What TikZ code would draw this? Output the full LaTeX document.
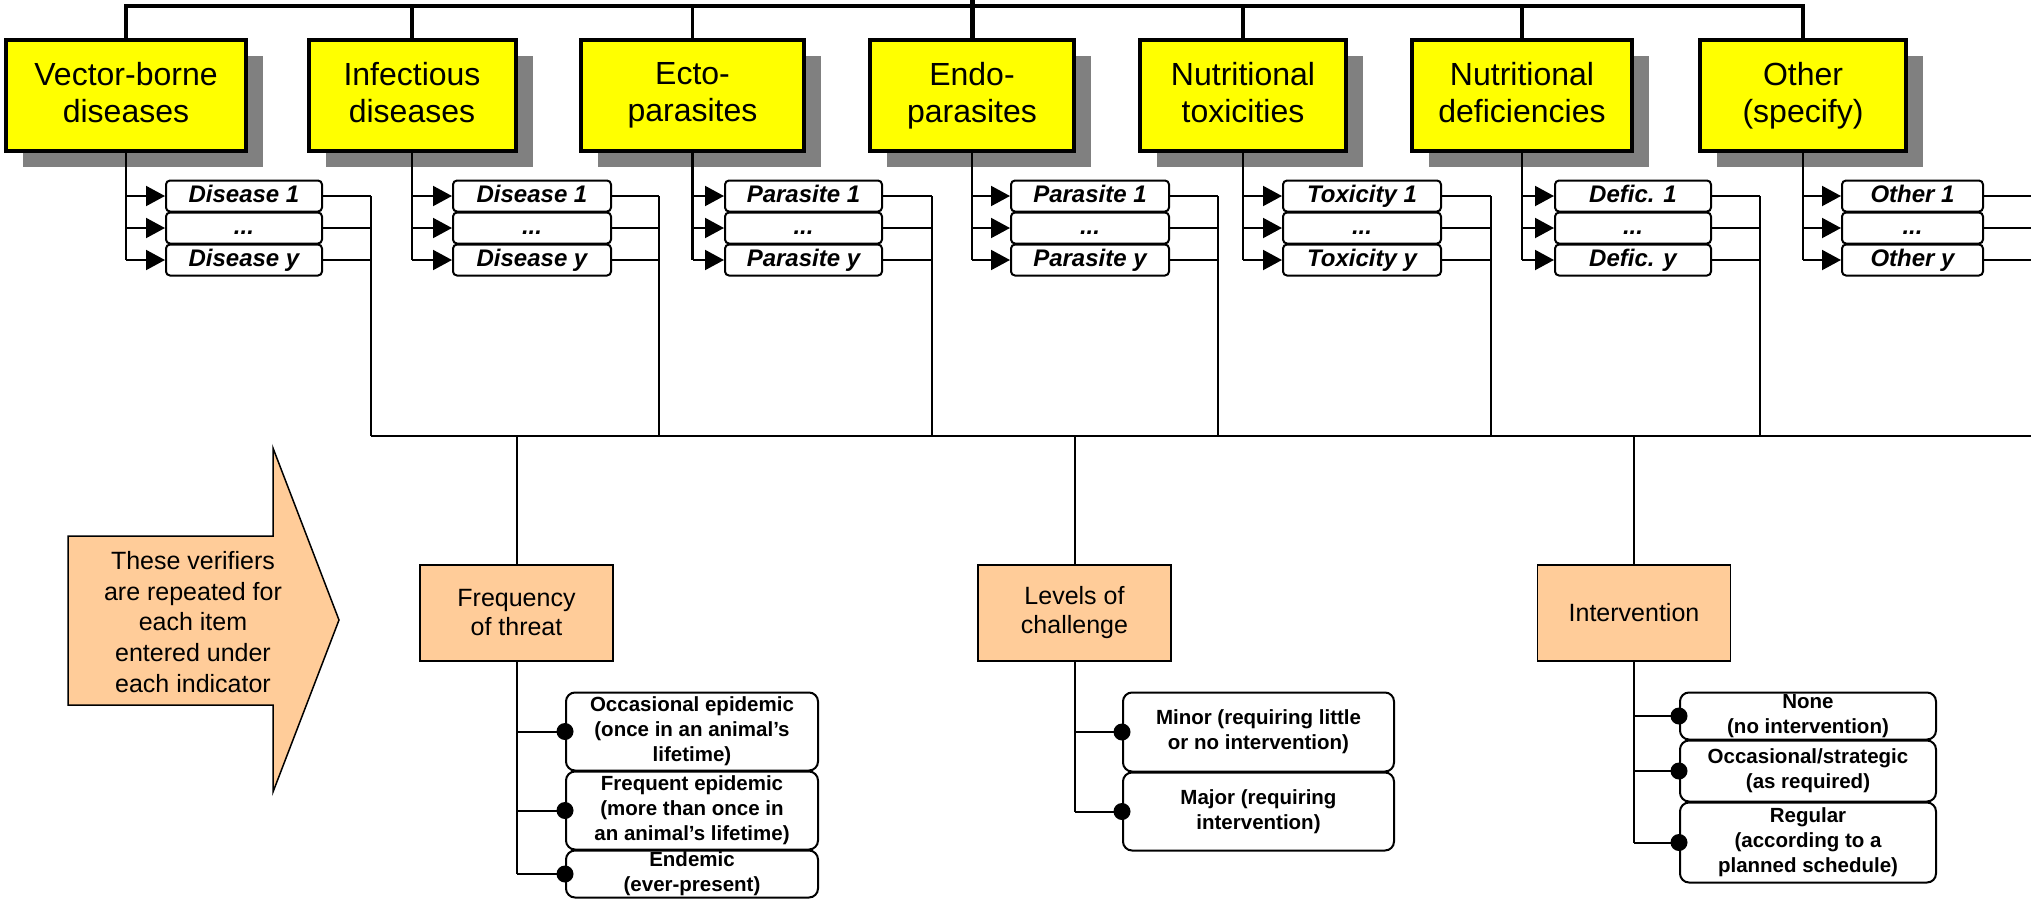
\documentclass[tikz,border=0pt]{standalone}
\usepackage{fontspec}
\setmainfont{Liberation Sans}
\usetikzlibrary{arrows.meta,shadows}

\definecolor{boxyellow}{HTML}{FFFF00}
\definecolor{boxorange}{HTML}{FFCC99}
\definecolor{shadowgray}{HTML}{808080}

\tikzset{
  topbox/.style={draw, line width=2pt, fill=boxyellow, align=center,
    inner sep=0pt, minimum height=55.5pt,
    font=\fontsize{16}{18.5}\selectfont,
    execute at begin node={\rule{0pt}{15.5pt}},
    execute at end node={\rule[-3.5pt]{0pt}{3.5pt}},
    general shadow={shadow xshift=8.5pt, shadow yshift=-8pt, fill=shadowgray}},
  itembox/.style={draw, line width=1pt, rounded corners=2pt, fill=white,
    inner sep=0pt, minimum height=15.5pt, text height=8.6pt, text depth=2.6pt,
    font=\fontsize{12}{13}\selectfont\bfseries\itshape},
  verifier/.style={draw, line width=0.75pt, fill=boxorange, align=center,
    inner sep=0pt, minimum width=96.5pt, minimum height=48pt,
    font=\fontsize{12.5}{14.5}\selectfont},
  optbox/.style={draw, line width=1pt, rounded corners=4.5pt, fill=white,
    align=center, inner sep=0pt,
    font=\fontsize{10.25}{12.5}\selectfont\bfseries},
  barline/.style={line width=1.75pt},
  rootline/.style={line width=2.5pt},
  downline/.style={line width=1.25pt},
  link/.style={line width=1pt},
  tolist/.style={link, -{Triangle[length=9.5pt,width=10pt]}},
  dot/.style={fill=black}
}

\begin{document}
\begin{tikzpicture}[x=0.5pt,y=-0.5pt]
\useasboundingbox (0,0) rectangle (2031,905);

% ---- indicator boxes ----
\foreach \i/\cx/\w/\txt in {
  1/126/240/{Vector-borne\\diseases},
  2/412/207/{Infectious\\diseases},
  3/692.5/223/{Ecto-\\parasites},
  4/972/204/{Endo-\\parasites},
  5/1243/206/{Nutritional\\toxicities},
  6/1522/220/{Nutritional\\deficiencies},
  7/1803/206/{Other\\(specify)}}
{
  \pgfmathsetmacro\boxw{\w*0.5}
  \node[topbox, minimum width=\boxw pt] (t\i) at (\cx,95.5) {\txt};
}

% ---- top bar and root ----
\coordinate (root) at (972,0);
\coordinate (barL) at (126,6);
\draw[barline] (t1.north) -- (t1.north |- barL) -- (t7.north |- barL) -- (t7.north);
\foreach \i in {2,3,5,6} \draw[barline] (t\i.north) -- (t\i.north |- barL);
\draw[rootline] (root) -- (t4.north);

% ---- item lists ----
\coordinate (bus) at (371,436);
\coordinate (busend) at (2031,436);
\foreach \i/\l/\r/\xr/\first/\last in {
  1/165/323/371/Disease 1/Disease y,
  2/452/612/659/Disease 1/Disease y,
  3/724/883/932/Parasite 1/Parasite y,
  4/1010/1170/1218/Parasite 1/Parasite y,
  5/1282/1442/1491/Toxicity 1/Toxicity y,
  6/1554/1712/1760/Defic. 1/Defic. y,
  7/1841/1984/2031/Other 1/Other y}
{
  \pgfmathsetmacro\boxw{(\r-\l-2)*0.5}
  \pgfmathsetmacro\mx{(\l+\r)/2}
  \node[itembox, minimum width=\boxw pt] (i\i a) at (\mx,196) {\first};
  \node[itembox, minimum width=\boxw pt] (i\i b) at (\mx,228) {...};
  \node[itembox, minimum width=\boxw pt] (i\i c) at (\mx,260) {\last};
  \coordinate (j\i) at (\xr,196);
  % from the indicator down to its items
  \draw[downline] (t\i.south) -- (t\i.south |- i\i c.west);
  \draw[tolist] (t\i.south |- i\i a.west) -- (i\i a.west);
  \draw[tolist] (t\i.south |- i\i b.west) -- (i\i b.west);
  \draw[tolist] (t\i.south |- i\i c.west) -- (i\i c.west);
  % from the items out to the verifier bus
  \draw[link] (i\i a.east) -- (j\i);
  \draw[link] (i\i b.east) -- (i\i b.east -| j\i);
  \draw[link] (i\i c.east) -- (i\i c.east -| j\i);
}
\foreach \i in {1,...,6} \draw[link] (j\i) -- (j\i |- bus);
\draw[link] (bus) -- (busend);

% ---- verifiers ----
\node[verifier] (freq) at (516.5,613) {Frequency\\of threat};
\node[verifier] (levels) at (1074.5,613) {Levels of\\challenge};
\node[verifier] (interv) at (1634,613) {Intervention};
\foreach \v in {freq,levels,interv} \draw[link] (\v.north |- bus) -- (\v.north);

% frequency of threat
\node[optbox, minimum width=126pt, minimum height=39pt] (f1) at (692,731.5)
  {Occasional epidemic\\(once in an animal’s\\lifetime)};
\node[optbox, minimum width=126pt, minimum height=39pt] (f2) at (692,810.5)
  {Frequent epidemic\\(more than once in\\an animal’s lifetime)};
\node[optbox, minimum width=126pt, minimum height=23.5pt] (f3) at (692,874)
  {Endemic\\(ever-present)};

% levels of challenge
\node[optbox, minimum width=135.5pt, minimum height=39.5pt] (l1) at (1258.5,732)
  {Minor (requiring little\\or no intervention)};
\node[optbox, minimum width=135.5pt, minimum height=39pt] (l2) at (1258.5,811.5)
  {Major (requiring\\intervention)};

% intervention
\node[optbox, minimum width=128pt, minimum height=23.5pt] (n1) at (1808,716)
  {None\\(no intervention)};
\node[optbox, minimum width=128pt, minimum height=30.5pt] (n2) at (1808,771)
  {Occasional/strategic\\(as required)};
\node[optbox, minimum width=128pt, minimum height=40pt] (n3) at (1808,842.5)
  {Regular\\(according to a\\planned schedule)};

\draw[link] (freq.south) -- (freq.south |- f3.west);
\draw[link] (levels.south) -- (levels.south |- l2.west);
\draw[link] (interv.south) -- (interv.south |- n3.west);
\foreach \o/\p in {f1/freq,f2/freq,f3/freq,l1/levels,l2/levels,n1/interv,n2/interv,n3/interv}
{
  \draw[link] (\p.south |- \o.west) -- (\o.west);
  \fill[dot] (\o.west) circle (4.25pt);
}

% ---- note arrow ----
\draw[line width=0.75pt, fill=boxorange]
  (68,536) -- (273,536) -- (273,448) -- (339,620) -- (273,792) -- (273,705) -- (68,705) -- cycle;
\node[align=center, inner sep=0pt, font=\fontsize{12.5}{15.3}\selectfont] (note) at (193,622)
  {These verifiers\\are repeated for\\each item\\entered under\\each indicator};
\end{tikzpicture}
\end{document}
